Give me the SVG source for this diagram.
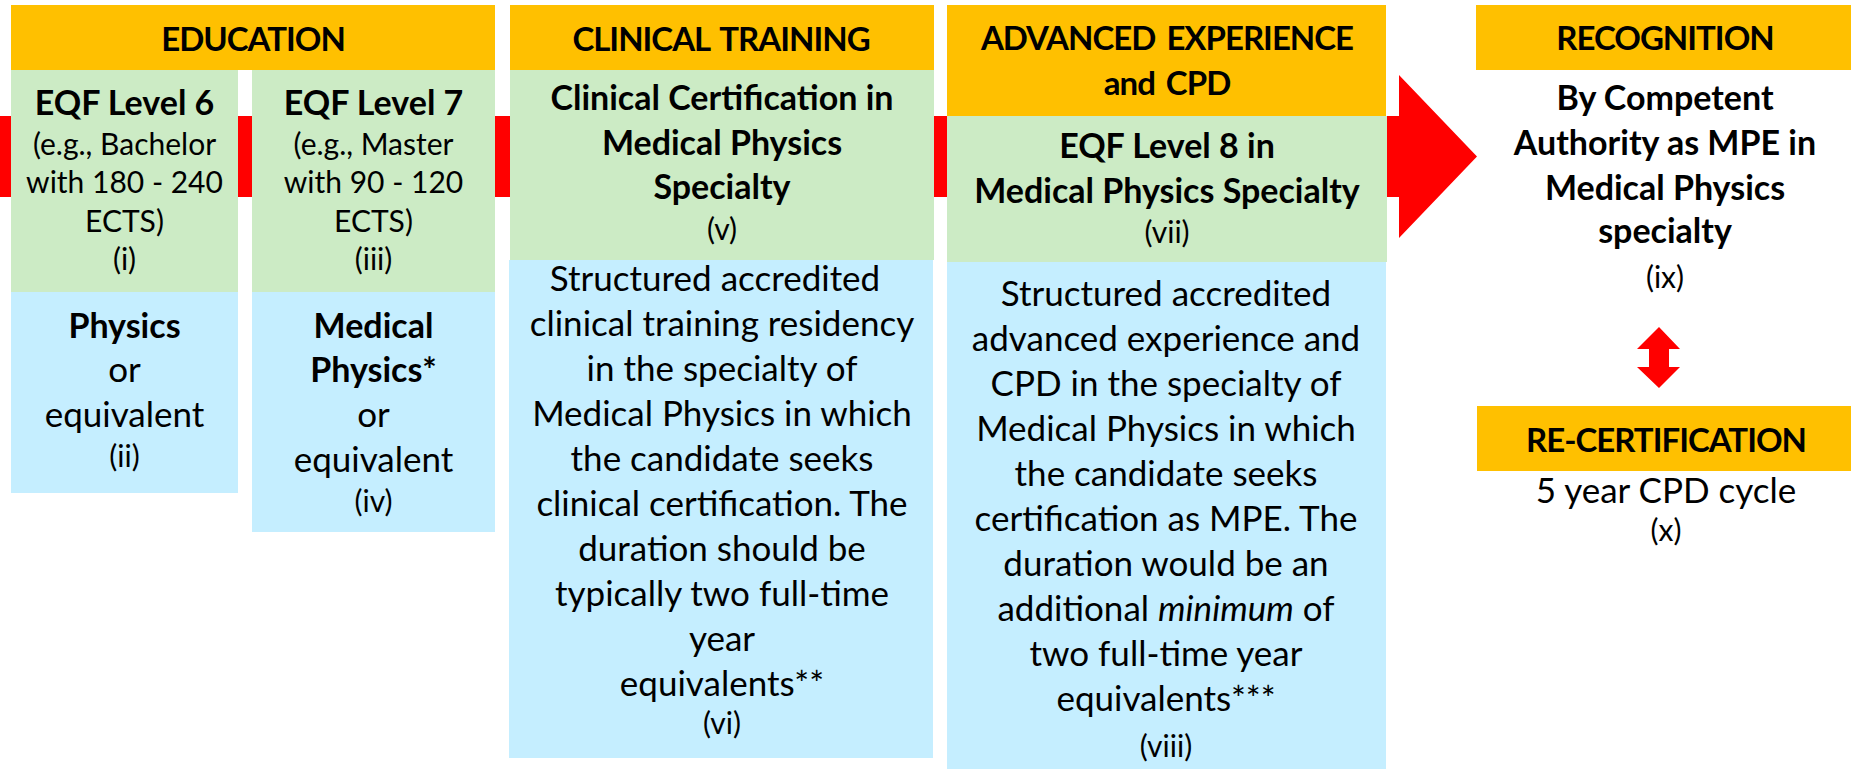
<svg xmlns="http://www.w3.org/2000/svg" width="1851" height="770" viewBox="0 0 1851 770">
<style>
.hd{fill:#FFC000}
.gr{fill:#CCEBC5}
.bl{fill:#C5EEFF}
.ar{fill:#FF0000}
text{font-family:Lato,"Liberation Sans",sans-serif;fill:#000;text-anchor:middle}
.h{font-weight:bold;font-size:33px;letter-spacing:-1px;word-spacing:4px}
.b{font-weight:bold;font-size:34px}
.r{font-size:35px}
.s{font-size:30px}
.it{font-style:italic}
</style>
<g id="connectors">
<polygon class="ar" points="0,116 1399,116 1399,75 1477,156.5 1399,238 1399,197 0,197"/>
<polygon class="ar" points="1659,327 1680,349 1669,349 1669,367 1680,367 1659,388 1637,367 1649,367 1649,349 1637,349"/>
</g>
<g id="education-header">
<rect class="hd" x="11" y="5" width="484" height="65"/>
<text class="h" x="253" y="51">EDUCATION</text>
</g>
<g id="eqf6">
<rect class="gr" x="11" y="70" width="227" height="222"/>
<text class="b" x="124.5" y="115">EQF Level 6</text>
<text class="s" x="124.5" y="155">(e.g., Bachelor</text>
<text class="s" x="124.5" y="193">with 180 - 240</text>
<text class="s" x="124.5" y="232">ECTS)</text>
<text class="s" x="124.5" y="270">(i)</text>
</g>
<g id="physics">
<rect class="bl" x="11" y="292" width="227" height="201"/>
<text class="b" x="124.5" y="338">Physics</text>
<text class="r" x="124.5" y="382">or</text>
<text class="r" x="124.5" y="427">equivalent</text>
<text class="s" x="124.5" y="467">(ii)</text>
</g>
<g id="eqf7">
<rect class="gr" x="252" y="70" width="243" height="222"/>
<text class="b" x="373.5" y="115">EQF Level 7</text>
<text class="s" x="373.5" y="155">(e.g., Master</text>
<text class="s" x="373.5" y="193">with 90 - 120</text>
<text class="s" x="373.5" y="232">ECTS)</text>
<text class="s" x="373.5" y="270">(iii)</text>
</g>
<g id="medphys">
<rect class="bl" x="252" y="292" width="243" height="240"/>
<text class="b" x="373.5" y="338">Medical</text>
<text class="b" x="373.5" y="382">Physics*</text>
<text class="r" x="373.5" y="427">or</text>
<text class="r" x="373.5" y="472">equivalent</text>
<text class="s" x="373.5" y="512">(iv)</text>
</g>
<g id="clinical-header">
<rect class="hd" x="510" y="5" width="424" height="65"/>
<text class="h" x="721" y="51">CLINICAL TRAINING</text>
</g>
<g id="clinical-cert">
<rect class="gr" x="510" y="70" width="424" height="190"/>
<text class="b" x="722" y="110">Clinical Certification in</text>
<text class="b" x="722" y="155">Medical Physics</text>
<text class="b" x="722" y="199">Specialty</text>
<text class="s" x="722" y="240">(v)</text>
</g>
<g id="clinical-residency">
<rect class="bl" x="509" y="260" width="424" height="498"/>
<text class="r" x="715" y="291">Structured accredited</text>
<text class="r" x="722" y="336">clinical training residency</text>
<text class="r" x="722" y="381">in the specialty of</text>
<text class="r" x="722" y="426">Medical Physics in which</text>
<text class="r" x="722" y="471">the candidate seeks</text>
<text class="r" x="722" y="516">clinical certification. The</text>
<text class="r" x="722" y="561">duration should be</text>
<text class="r" x="722" y="606">typically two full-time</text>
<text class="r" x="722" y="651">year</text>
<text class="r" x="722" y="696">equivalents**</text>
<text class="s" x="722" y="734">(vi)</text>
</g>
<g id="advanced-header">
<rect class="hd" x="947" y="5" width="439" height="111"/>
<text class="h" x="1167" y="50">ADVANCED EXPERIENCE</text>
<text class="h" x="1167" y="95">and CPD</text>
</g>
<g id="eqf8">
<rect class="gr" x="947" y="116" width="440" height="146"/>
<text class="b" x="1167" y="158">EQF Level 8 in</text>
<text class="b" x="1167" y="203">Medical Physics Specialty</text>
<text class="s" x="1167" y="243">(vii)</text>
</g>
<g id="advanced-cpd">
<rect class="bl" x="947" y="262" width="439" height="507"/>
<text class="r" x="1166" y="306">Structured accredited</text>
<text class="r" x="1166" y="351">advanced experience and</text>
<text class="r" x="1166" y="396">CPD in the specialty of</text>
<text class="r" x="1166" y="441">Medical Physics in which</text>
<text class="r" x="1166" y="486">the candidate seeks</text>
<text class="r" x="1166" y="531">certification as MPE. The</text>
<text class="r" x="1166" y="576">duration would be an</text>
<text class="r" x="1166" y="621">additional <tspan class="it">minimum</tspan> of</text>
<text class="r" x="1166" y="666">two full-time year</text>
<text class="r" x="1166" y="711">equivalents***</text>
<text class="s" x="1166" y="757">(viii)</text>
</g>
<g id="recognition">
<rect class="hd" x="1476" y="5" width="375" height="65"/>
<text class="h" x="1665" y="50">RECOGNITION</text>
<text class="b" x="1665" y="110">By Competent</text>
<text class="b" x="1665" y="155">Authority as MPE in</text>
<text class="b" x="1665" y="200">Medical Physics</text>
<text class="b" x="1665" y="243">specialty</text>
<text class="s" x="1665" y="288">(ix)</text>
</g>
<g id="recertification">
<rect class="hd" x="1477" y="406" width="374" height="65"/>
<text class="h" x="1666" y="452">RE-CERTIFICATION</text>
<text class="r" x="1666" y="503">5 year CPD cycle</text>
<text class="s" x="1666" y="541">(x)</text>
</g>
</svg>
